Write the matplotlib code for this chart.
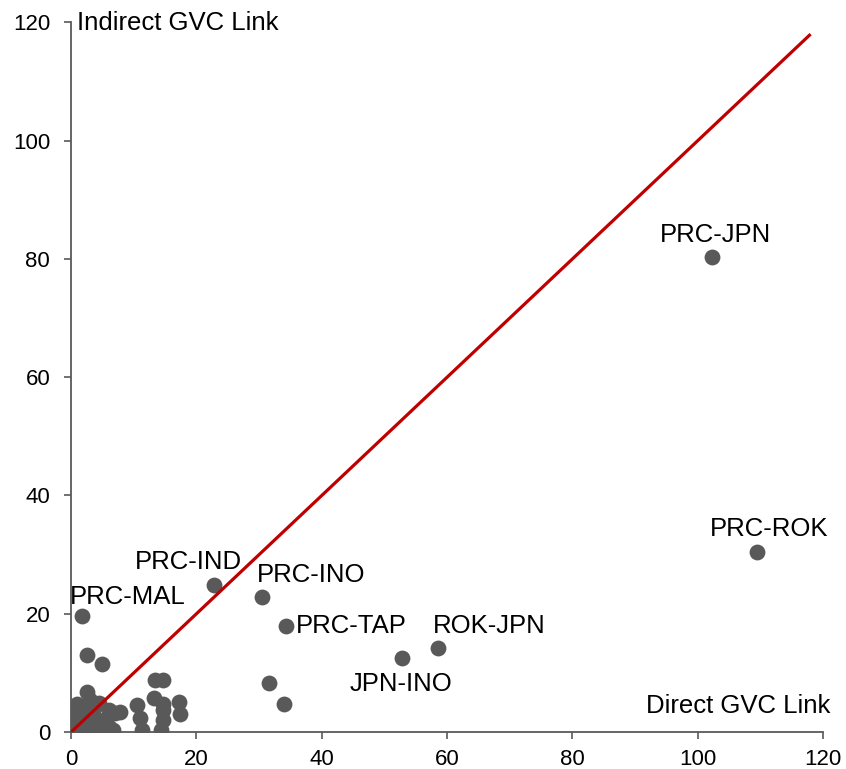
import matplotlib
matplotlib.use("Agg")
import matplotlib.pyplot as plt

plt.rcParams['font.family'] = ['Liberation Sans', 'DejaVu Sans']

# Labelled pairs
pair_names = ["PRC-JPN", "PRC-ROK", "ROK-JPN", "JPN-INO", "PRC-TAP", "PRC-INO", "PRC-IND", "PRC-MAL"]
pair_direct = [102.2, 109.4, 58.5, 52.8, 34.3, 30.5, 22.8, 1.8]
pair_indirect = [80.3, 30.4, 14.2, 12.5, 18.0, 22.9, 24.8, 19.7]
label_x = [102.9, 111.3, 66.7, 52.6, 44.7, 38.3, 18.8, 9.1]
label_y = [84.1, 34.4, 17.9, 8.1, 17.9, 26.5, 28.8, 22.9]

# Unlabelled pairs
other_direct = [31.6, 33.9, 2.5, 4.9, 13.4, 14.6, 2.5, 3.0, 0.9, 0.6, 0.1, 0.0, 0.1,
                6.0, 7.0, 3.8, 2.8, 4.9, 6.0, 1.7, 3.8, 6.7, 7.8, 10.5, 13.2, 14.7,
                17.3, 17.4, 11.0, 14.7, 11.3, 14.4, 14.7, 1.2, 2.0, 3.2, 4.3, 5.3, 0.5,
                1.5, 2.2, 4.5, 5.6, 0.3, 1.0, 3.4, 4.4, 2.6, 0.8, 5.0, 3.6, 4.1]
other_indirect = [8.3, 4.7, 13.0, 11.5, 8.8, 8.8, 6.8, 5.4, 4.8, 3.4, 2.0, 0.9, 0.0,
                  3.7, 3.2, 2.4, 1.5, 1.5, 0.9, 0.3, 0.0, 0.3, 3.4, 4.6, 5.7, 4.8,
                  5.1, 3.0, 2.3, 2.0, 0.3, 0.3, 3.7, 1.2, 0.5, 1.0, 0.6, 2.0, 2.8,
                  2.6, 3.3, 4.9, 1.6, 1.5, 0.2, 0.4, 1.9, 0.0, 3.9, 0.0, 4.0, 0.5]

diag = [0, 118]

fig = plt.figure(figsize=(8.46, 7.69), dpi=100)
ax = fig.add_axes([0.084, 0.048, 0.889, 0.923])

dot_color = "#595959"
ax.scatter(other_direct, other_indirect, s=130, color=dot_color, zorder=2, linewidths=0)
ax.scatter(pair_direct, pair_indirect, s=130, color=dot_color, zorder=2, linewidths=0)
ax.plot(diag, diag, color="#C00000", lw=2.3, zorder=3, solid_capstyle='butt')

for name, lx, ly in zip(pair_names, label_x, label_y):
    ax.text(lx, ly, name, ha='center', va='center', fontsize=18.5, color='black')

ax.set_xlim(0, 120)
ax.set_ylim(0, 120)
ax.set_xticks(range(0, 121, 20))
ax.set_yticks(range(0, 121, 20))
ax.tick_params(direction='out', length=5, width=1.2, color="#595959", labelsize=16)
ax.tick_params(axis='y', pad=10)
ax.tick_params(axis='x', pad=7)
for s in ['top', 'right']:
    ax.spines[s].set_visible(False)
for s in ['left', 'bottom']:
    ax.spines[s].set_color("#595959")
    ax.spines[s].set_linewidth(1.3)

ax.text(1.0, 119.8, "Indirect GVC Link", ha='left', va='center', fontsize=18.5)
ax.text(121.1, 4.4, "Direct GVC Link", ha='right', va='center', fontsize=18.5)

fig.savefig("out.png", dpi=100)
